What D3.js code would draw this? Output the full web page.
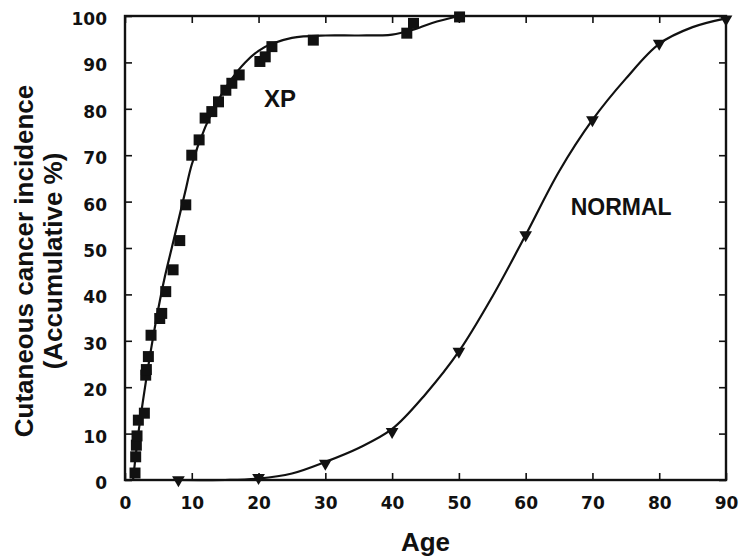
<!DOCTYPE html>
<html>
<head>
<meta charset="utf-8">
<title>Cutaneous cancer incidence - XP vs normal</title>
<script src="https://cdn.jsdelivr.net/npm/d3@7"></script>
<style>
  body { margin: 0; background: #fff; }
  .tick text { font-family: "DejaVu Sans", sans-serif; font-weight: bold; font-size: 17px; fill: #111; }
  .tick line { stroke: #111; stroke-width: 1.6px; }
  .title { font-family: "Liberation Sans", Arial, sans-serif; font-weight: bold; fill: #111; }
</style>
</head>
<body>
<svg id="chart"></svg>
<script>
// ticks
var xTicks = [0, 10, 20, 30, 40, 50, 60, 70, 80, 90];
var yTicks = [0, 10, 20, 30, 40, 50, 60, 70, 80, 90, 100];

// XP patients - square markers (age, accumulative %)
var xpAge = [1.5, 1.6, 1.7, 1.8, 2.0, 2.9, 3.1, 3.2, 3.5, 3.9, 5.2, 5.5, 6.1, 7.2, 8.2,
             9.1, 10.0, 11.1, 12.0, 13.0, 14.0, 15.1, 16.0, 17.1, 20.2, 21.0, 22.0,
             28.2, 42.2, 43.2, 50.1];
var xpPct = [1.5, 5, 7.5, 9.5, 12.9, 14.4, 22.6, 23.8, 26.6, 31.2, 34.8, 35.9, 40.6, 45.3, 51.6,
             59.3, 70, 73.3, 78, 79.4, 81.5, 84, 85.5, 87.3, 90.2, 91.2, 93.4,
             94.8, 96.3, 98.4, 99.8];

// XP fitted curve
var xpCurveAge = [1.2, 2, 3, 4, 5, 6, 7, 8, 9, 10, 12, 14, 16, 18, 20, 22, 25, 30, 35, 40, 43, 46, 50];
var xpCurvePct = [0, 10, 20, 29, 37, 44, 50, 56, 62, 68, 76, 82, 86.5, 90, 92.5, 94, 95.3, 95.8, 95.8, 96, 97, 98.5, 100];

// normal population - triangle markers
var normAge = [8, 20, 30, 40, 50, 60, 70, 80, 90];
var normPct = [0, 0.5, 3.6, 10.4, 27.7, 52.8, 77.6, 94.1, 99.3];

// normal fitted curve
var normCurveAge = [8, 15, 20, 25, 30, 35, 40, 45, 50, 55, 60, 65, 70, 75, 80, 85, 90];
var normCurvePct = [0, 0, 0.3, 1.4, 3.9, 6.9, 11, 18.5, 27.7, 39.5, 52.8, 66.5, 77.6, 86.5, 94, 97.6, 99.5];

var width = 740, height = 558;
var margin = {top: 16, right: 14, bottom: 78, left: 125};
var w = width - margin.left - margin.right;
var h = height - margin.top - margin.bottom;

var svg = d3.select("#chart").attr("width", width).attr("height", height);
svg.append("rect").attr("width", width).attr("height", height).attr("fill", "#fff");

var g = svg.append("g").attr("transform", "translate(" + margin.left + "," + margin.top + ")");

var x = d3.scaleLinear().domain([0, 90]).range([0, w]);
var y = d3.scaleLinear().domain([0, 100]).range([h, 0]);

// axes, ticks pointing inwards
var bottom = g.append("g").attr("transform", "translate(0," + h + ")")
    .call(d3.axisBottom(x).tickValues(xTicks).tickSizeInner(-7).tickSizeOuter(0).tickPadding(17));
var left = g.append("g")
    .call(d3.axisLeft(y).tickValues(yTicks).tickSizeInner(-7).tickSizeOuter(0).tickPadding(18));
left.selectAll(".tick text").attr("dy", "0.5em");
g.append("g")
    .call(d3.axisTop(x).tickValues(xTicks).tickSizeInner(-7).tickSizeOuter(0).tickFormat(""));
g.append("g").attr("transform", "translate(" + w + ",0)")
    .call(d3.axisRight(y).tickValues(yTicks).tickSizeInner(-7).tickSizeOuter(0).tickFormat(""));
g.selectAll(".domain").remove();

g.append("rect")
    .attr("width", w).attr("height", h)
    .attr("fill", "none").attr("stroke", "#111").attr("stroke-width", 2.4);

// curves
var line = d3.line()
    .x(function(d) { return x(d[0]); })
    .y(function(d) { return y(d[1]); })
    .curve(d3.curveCatmullRom.alpha(0.5));

g.append("path")
    .datum(d3.zip(xpCurveAge, xpCurvePct))
    .attr("d", line)
    .attr("fill", "none").attr("stroke", "#111").attr("stroke-width", 2.2);

g.append("path")
    .datum(d3.zip(normCurveAge, normCurvePct))
    .attr("d", line)
    .attr("fill", "none").attr("stroke", "#111").attr("stroke-width", 2.2);

// markers
g.append("g").selectAll("path")
    .data(d3.zip(xpAge, xpPct))
    .enter().append("path")
    .attr("d", d3.symbol().type(d3.symbolSquare).size(121))
    .attr("transform", function(d) { return "translate(" + x(d[0]) + "," + y(d[1]) + ")"; })
    .attr("fill", "#111");

g.append("g").selectAll("path")
    .data(d3.zip(normAge, normPct))
    .enter().append("path")
    .attr("d", d3.symbol().type(d3.symbolTriangle).size(70))
    .attr("transform", function(d) { return "translate(" + x(d[0]) + "," + y(d[1]) + ") rotate(180)"; })
    .attr("fill", "#111");

// series labels
g.append("text").attr("class", "title")
    .attr("x", x(23.2)).attr("y", y(82.3)).attr("dy", "0.35em")
    .attr("text-anchor", "middle").style("font-size", "24px")
    .text("XP");
g.append("text").attr("class", "title")
    .attr("x", x(74.3)).attr("y", y(58.8)).attr("dy", "0.35em")
    .attr("text-anchor", "middle").style("font-size", "23px")
    .text("NORMAL");

// axis titles
svg.append("text").attr("class", "title")
    .attr("x", margin.left + x(45)).attr("y", 551)
    .attr("text-anchor", "middle").style("font-size", "26px")
    .text("Age");

var yt = svg.append("text").attr("class", "title")
    .attr("transform", "translate(0,261) rotate(-90)")
    .attr("text-anchor", "middle").style("font-size", "26px");
yt.append("tspan").attr("x", 0).attr("y", 33).text("Cutaneous cancer incidence");
yt.append("tspan").attr("x", 0).attr("y", 62).text("(Accumulative %)");
</script>
</body>
</html>
